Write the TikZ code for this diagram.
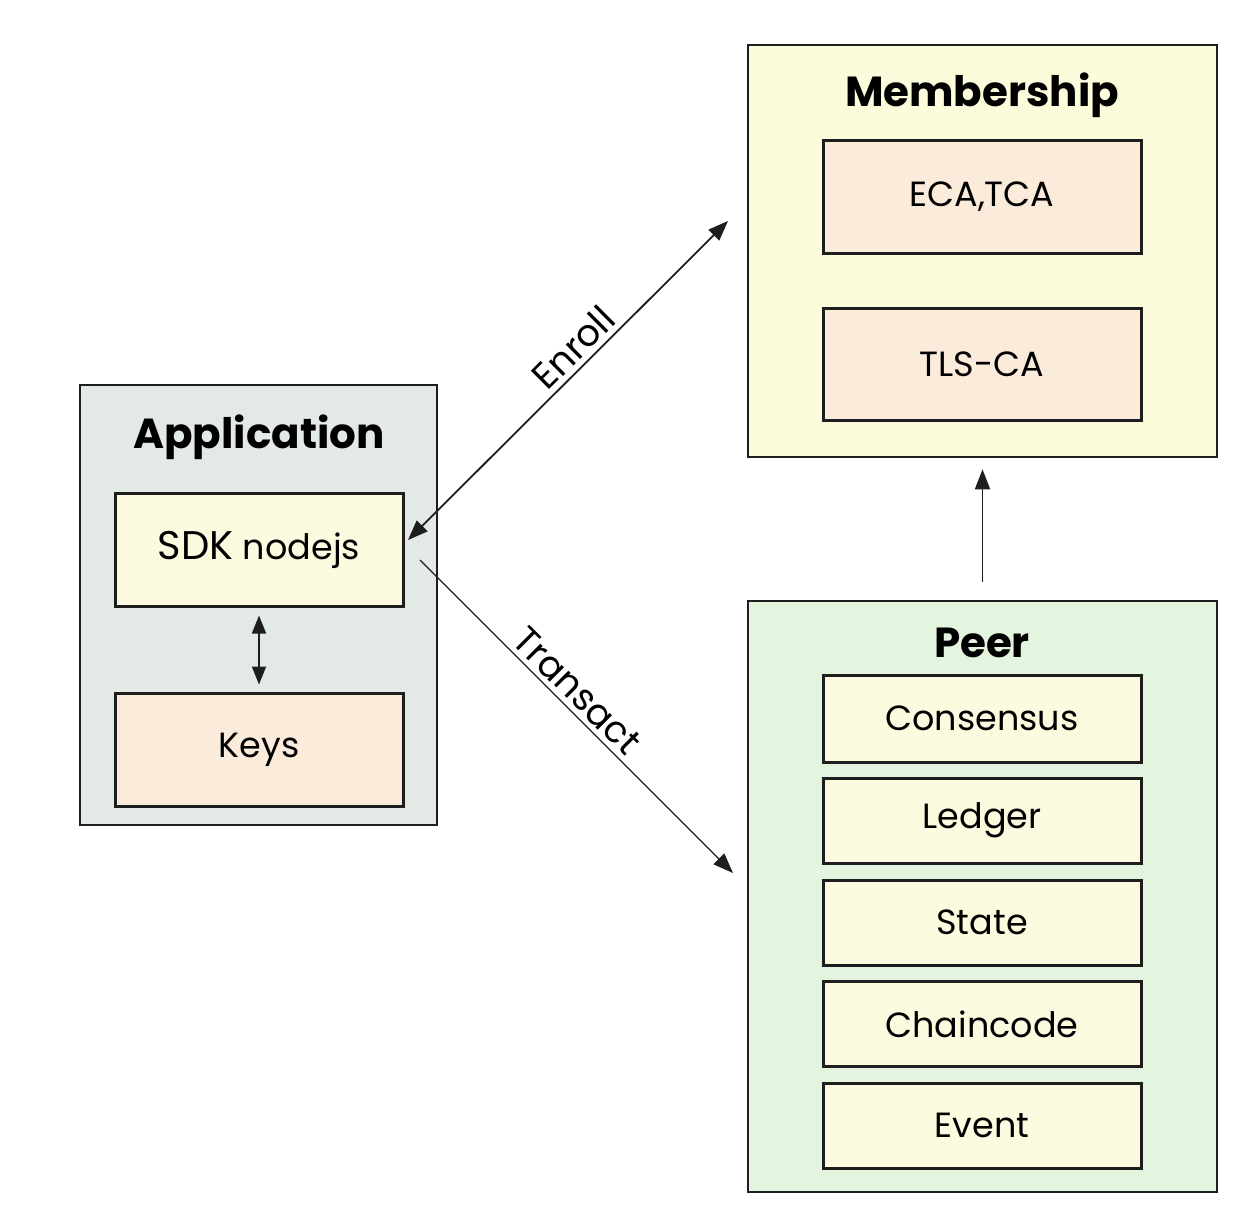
\documentclass[tikz,border=0pt]{standalone}
\usepackage{fontspec}
\setmainfont{Poppins}
\usetikzlibrary{arrows.meta}
\definecolor{appfill}{HTML}{E3EAE5}
\definecolor{yelfill}{HTML}{FDFBDF}
\definecolor{peachfill}{HTML}{FBEBDB}
\definecolor{peerfill}{HTML}{E4F5DF}
\definecolor{memfill}{HTML}{FCFCDD}
\definecolor{inkline}{HTML}{1E1E1E}
\tikzset{
  outerbox/.style={draw=inkline, line width=2.6pt, inner sep=0pt, rectangle},
  innerbox/.style={draw=inkline, line width=3pt, inner sep=0pt, rectangle, minimum width=318pt, font=\fontsize{35}{40}\selectfont},
  titletext/.style={font=\fontsize{42}{48}\selectfont\bfseries, inner sep=0pt},
  conn/.style={draw=inkline, line width=1.8pt},
  tip/.style={-{Triangle[length=20pt,width=15pt]}},
  lbl/.style={font=\fontsize{37}{42}\selectfont, inner sep=5pt}
}
\begin{document}
\begin{tikzpicture}[x=1pt,y=-1pt]
\useasboundingbox (0,0) rectangle (1250,1210);
% Application
\node[outerbox, fill=appfill, minimum width=357pt, minimum height=440pt] (app) at (258.5,605) {};
\node[titletext] (apptitle) at (259,437) {Application};
\node[innerbox, fill=yelfill, minimum width=288pt, minimum height=113pt] (sdk) at (259,549.5) {{\fontsize{40}{44}\selectfont SDK} nodejs};
\node[innerbox, fill=peachfill, minimum width=288pt, minimum height=113pt] (keys) at (259,749.5) {Keys};
% Membership
\node[outerbox, fill=memfill, minimum width=469pt, minimum height=412pt] (mem) at (982.5,251) {};
\node[titletext] (memtitle) at (982,95) {Membership};
\node[innerbox, fill=peachfill, minimum height=113pt] (eca) at (982,196.5) {ECA,TCA};
\node[innerbox, fill=peachfill, minimum height=112pt] (tls) at (982,364) {TLS-CA};
% Peer
\node[outerbox, fill=peerfill, minimum width=469pt, minimum height=591pt] (peer) at (982.5,896.5) {};
\node[titletext] (peertitle) at (982,643) {Peer};
\node[innerbox, fill=yelfill, minimum height=87pt] (cons) at (982,718.5) {Consensus};
\node[innerbox, fill=yelfill, minimum height=85pt] (ledger) at (982,820.5) {Ledger};
\node[innerbox, fill=yelfill, minimum height=85pt] (state) at (982,922.5) {State};
\node[innerbox, fill=yelfill, minimum height=85pt] (chain) at (982,1024) {Chaincode};
\node[innerbox, fill=yelfill, minimum height=85pt] (event) at (982,1125.5) {Event};
% connectors
\draw[conn, {Triangle[length=18pt,width=14pt]}-{Triangle[length=18pt,width=14pt]}, shorten <=8pt, shorten >=7pt] (sdk.south) -- (keys.north);
\draw[conn, tip, shorten <=18pt, shorten >=11pt] (peer.north) -- (mem.south);
\coordinate (enA) at (408,540);
\coordinate (enB) at (728,221);
\draw[conn, {Triangle[length=20pt,width=15pt]}-{Triangle[length=20pt,width=15pt]}] (enA) -- node[lbl, sloped, above, pos=0.56] {Enroll} (enB);
\coordinate (trA) at (420,560);
\coordinate (trB) at (733,873);
\draw[conn, line width=1.4pt, tip] (trA) -- node[lbl, sloped, above, pos=0.46] {Transact} (trB);
\end{tikzpicture}
\end{document}
